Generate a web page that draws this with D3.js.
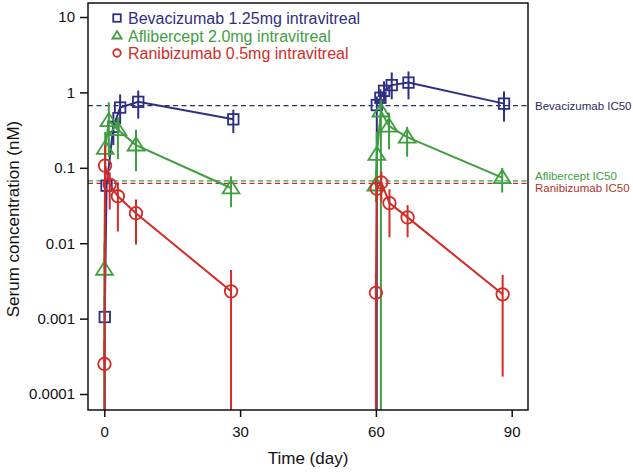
<!DOCTYPE html>
<html><head><meta charset="utf-8">
<script src="https://cdn.jsdelivr.net/npm/d3@7"></script>
<style>
html,body{margin:0;padding:0;background:#fff;}
svg text{font-family:"Liberation Sans",Arial,Helvetica,sans-serif;}
</style></head>
<body>
<svg id="chart" width="633" height="473"></svg>
<script>
// ---------------- data ----------------
const xTicks = [0, 30, 60, 90];
const xTickLabels = ["0", "30", "60", "90"];
const yTicks = [0.0001, 0.001, 0.01, 0.1, 1, 10];
const yTickLabels = ["0.0001", "0.001", "0.01", "0.1", "1", "10"];

const seriesNames = ["Bevacizumab 1.25mg intravitreal", "Aflibercept 2.0mg intravitreal", "Ranibizumab 0.5mg intravitreal"];
const ic50Names = ["Bevacizumab IC50", "Aflibercept IC50", "Ranibizumab IC50"];
const ic50Values = [0.67, 0.067, 0.062];

// Bevacizumab
const bevDose = [1, 1, 1, 1, 1, 1, 2, 2, 2, 2, 2, 2];
const bevTime = [0.1, 0.5, 2, 3.5, 7.5, 28.5, 60.2, 61, 61.8, 63.5, 67.2, 88.3];
const bevConc = [0.00105, 0.058, 0.35, 0.63, 0.75, 0.44, 0.68, 0.85, 1.05, 1.25, 1.35, 0.71];
const bevLo   = [0.000001, 0.058, 0.2, 0.38, 0.45, 0.29, 0.000001, 0.6, 0.75, 0.81, 0.81, 0.41];
const bevHi   = [0.002, 0.058, 0.55, 0.94, 1.06, 0.59, 0.88, 1.1, 1.4, 1.84, 1.9, 1.03];

// Aflibercept
const aflDose = [1, 1, 1, 1, 1, 1, 2, 2, 2, 2, 2, 2];
const aflTime = [0.04, 0.2, 1, 3, 7, 28, 60, 60.2, 61.1, 62.9, 66.9, 87.9];
const aflConc = [0.0045, 0.18, 0.42, 0.32, 0.2, 0.054, 0.059, 0.15, 0.565, 0.357, 0.255, 0.074];
const aflLo   = [0.000001, 0.09, 0.14, 0.13, 0.09, 0.03, 0.035, 0.07, 0.000001, 0.175, 0.14, 0.047];
const aflHi   = [0.01, 0.3, 0.74, 0.47, 0.32, 0.077, 0.09, 0.3, 0.8, 0.54, 0.35, 0.1];

// Ranibizumab
const ranDose = [1, 1, 1, 1, 1, 1, 2, 2, 2, 2, 2, 2];
const ranTime = [0.04, 0.17, 1.2, 3, 7, 28, 60, 60.2, 61.2, 63, 67, 88];
const ranConc = [0.00025, 0.107, 0.06, 0.042, 0.025, 0.0023, 0.0022, 0.053, 0.064, 0.034, 0.022, 0.0021];
const ranLo   = [0.000001, 0.03, 0.028, 0.0143, 0.0096, 0.000001, 0.000001, 0.053, 0.035, 0.012, 0.012, 0.00017];
const ranHi   = [0.0005, 0.2, 0.087, 0.064, 0.038, 0.0044, 0.004, 0.053, 0.089, 0.052, 0.032, 0.0038];

const colors = ["#2e2f84", "#3f9e3f", "#d42b27"];
const icColors = ["#2a2d5e", "#3f9e3f", "#b5312c"];

// ---------------- layout ----------------
const svg = d3.select("#chart");
const L = 88, R = 528, T = 3, B = 410;
const x = d3.scaleLinear().domain([-3.6, 93.6]).range([L, R]);
const y = d3.scaleLog().domain([Math.pow(10, -4.212), Math.pow(10, 1.186)]).range([B, T]);

svg.append("defs").append("clipPath").attr("id", "clip")
  .append("rect").attr("x", L).attr("y", T).attr("width", R - L).attr("height", B - T);

// axes
const yAxis = d3.axisLeft(y).tickValues(yTicks).tickSize(8).tickPadding(5)
  .tickFormat((d, i) => yTickLabels[i]);
const gy = svg.append("g").attr("transform", `translate(${L},0)`).call(yAxis);
gy.select(".domain").remove();
gy.selectAll("line").attr("stroke", "#111").attr("stroke-width", 1.5);
gy.selectAll("text").attr("font-size", 15).attr("fill", "#111");

const xAxis = d3.axisBottom(x).tickValues(xTicks).tickSize(7).tickPadding(9)
  .tickFormat((d, i) => xTickLabels[i]);
const gx = svg.append("g").attr("transform", `translate(0,${B})`).call(xAxis);
gx.select(".domain").remove();
gx.selectAll("line").attr("stroke", "#111").attr("stroke-width", 1.5);
gx.selectAll("text").attr("font-size", 15).attr("fill", "#111");

svg.append("text").attr("x", (L + R) / 2).attr("y", 464).attr("text-anchor", "middle")
  .attr("font-size", 17).attr("fill", "#111").text("Time (day)");
svg.append("text").attr("transform", `translate(19,${219}) rotate(-90)`).attr("text-anchor", "middle")
  .attr("font-size", 17).attr("fill", "#111").text("Serum concentration (nM)");

// IC50 dashed lines
const plot = svg.append("g").attr("clip-path", "url(#clip)");
ic50Values.forEach((v, i) => {
  plot.append("line").attr("x1", L).attr("x2", R).attr("y1", y(v)).attr("y2", y(v))
    .attr("stroke", icColors[i]).attr("stroke-width", 1.2).attr("stroke-dasharray", "5,3.5");
});
const icLabelY = [y(ic50Values[0]) + 4, y(ic50Values[1]) - 1, y(ic50Values[2]) + 9];
ic50Names.forEach((n, i) => {
  svg.append("text").attr("x", 535).attr("y", icLabelY[i]).attr("font-size", 11.5)
    .attr("fill", icColors[i]).text(n);
});

// series
const series = [
  {time: bevTime, conc: bevConc, lo: bevLo, hi: bevHi, dose: bevDose, shape: "square"},
  {time: aflTime, conc: aflConc, lo: aflLo, hi: aflHi, dose: aflDose, shape: "triangle"},
  {time: ranTime, conc: ranConc, lo: ranLo, hi: ranHi, dose: ranDose, shape: "circle"}
];
const line = d3.line().x(d => x(d.t)).y(d => y(d.c));

function drawMarker(g, shape, cx, cy, color, size) {
  if (shape === "square") {
    g.append("rect").attr("x", cx - size / 2).attr("y", cy - size / 2).attr("width", size).attr("height", size)
      .attr("fill", "none").attr("stroke", color).attr("stroke-width", 1.8);
  } else if (shape === "triangle") {
    const h = size * 0.95;
    g.append("path").attr("d", `M${cx},${cy - h * 0.62}L${cx + size * 0.62},${cy + h * 0.42}L${cx - size * 0.62},${cy + h * 0.42}Z`)
      .attr("fill", "none").attr("stroke", color).attr("stroke-width", 1.8);
  } else {
    g.append("circle").attr("cx", cx).attr("cy", cy).attr("r", size / 2)
      .attr("fill", "none").attr("stroke", color).attr("stroke-width", 1.8);
  }
}

series.forEach((s, si) => {
  const g = plot.append("g");
  const pts = s.time.map((t, i) => ({t, c: s.conc[i], lo: s.lo[i], hi: s.hi[i], dose: s.dose[i]}));
  [1, 2].forEach(dn => {
    const seg = pts.filter(p => p.dose === dn);
    g.append("path").datum(seg).attr("d", line).attr("fill", "none")
      .attr("stroke", colors[si]).attr("stroke-width", 2);
  });
  pts.forEach(p => {
    if (p.hi > p.lo) {
      g.append("line").attr("x1", x(p.t)).attr("x2", x(p.t)).attr("y1", y(p.hi)).attr("y2", y(p.lo))
        .attr("stroke", colors[si]).attr("stroke-width", 2);
    }
  });
  const size = s.shape === "square" ? 10.5 : s.shape === "triangle" ? 13.5 : 12.5;
  pts.forEach(p => drawMarker(g, s.shape, x(p.t), y(p.c), colors[si], size));
});

// frame
svg.append("rect").attr("x", L).attr("y", T).attr("width", R - L).attr("height", B - T)
  .attr("fill", "none").attr("stroke", "#111").attr("stroke-width", 1.5);

// legend
const legShapes = ["square", "triangle", "circle"];
const legY = [18, 35.5, 53];
seriesNames.forEach((n, i) => {
  drawMarker(svg, legShapes[i], 117, legY[i], colors[i], 7.5);
  svg.append("text").attr("x", 128).attr("y", legY[i] + 6).attr("font-size", 16)
    .attr("fill", colors[i]).text(n);
});
</script>
</body></html>
